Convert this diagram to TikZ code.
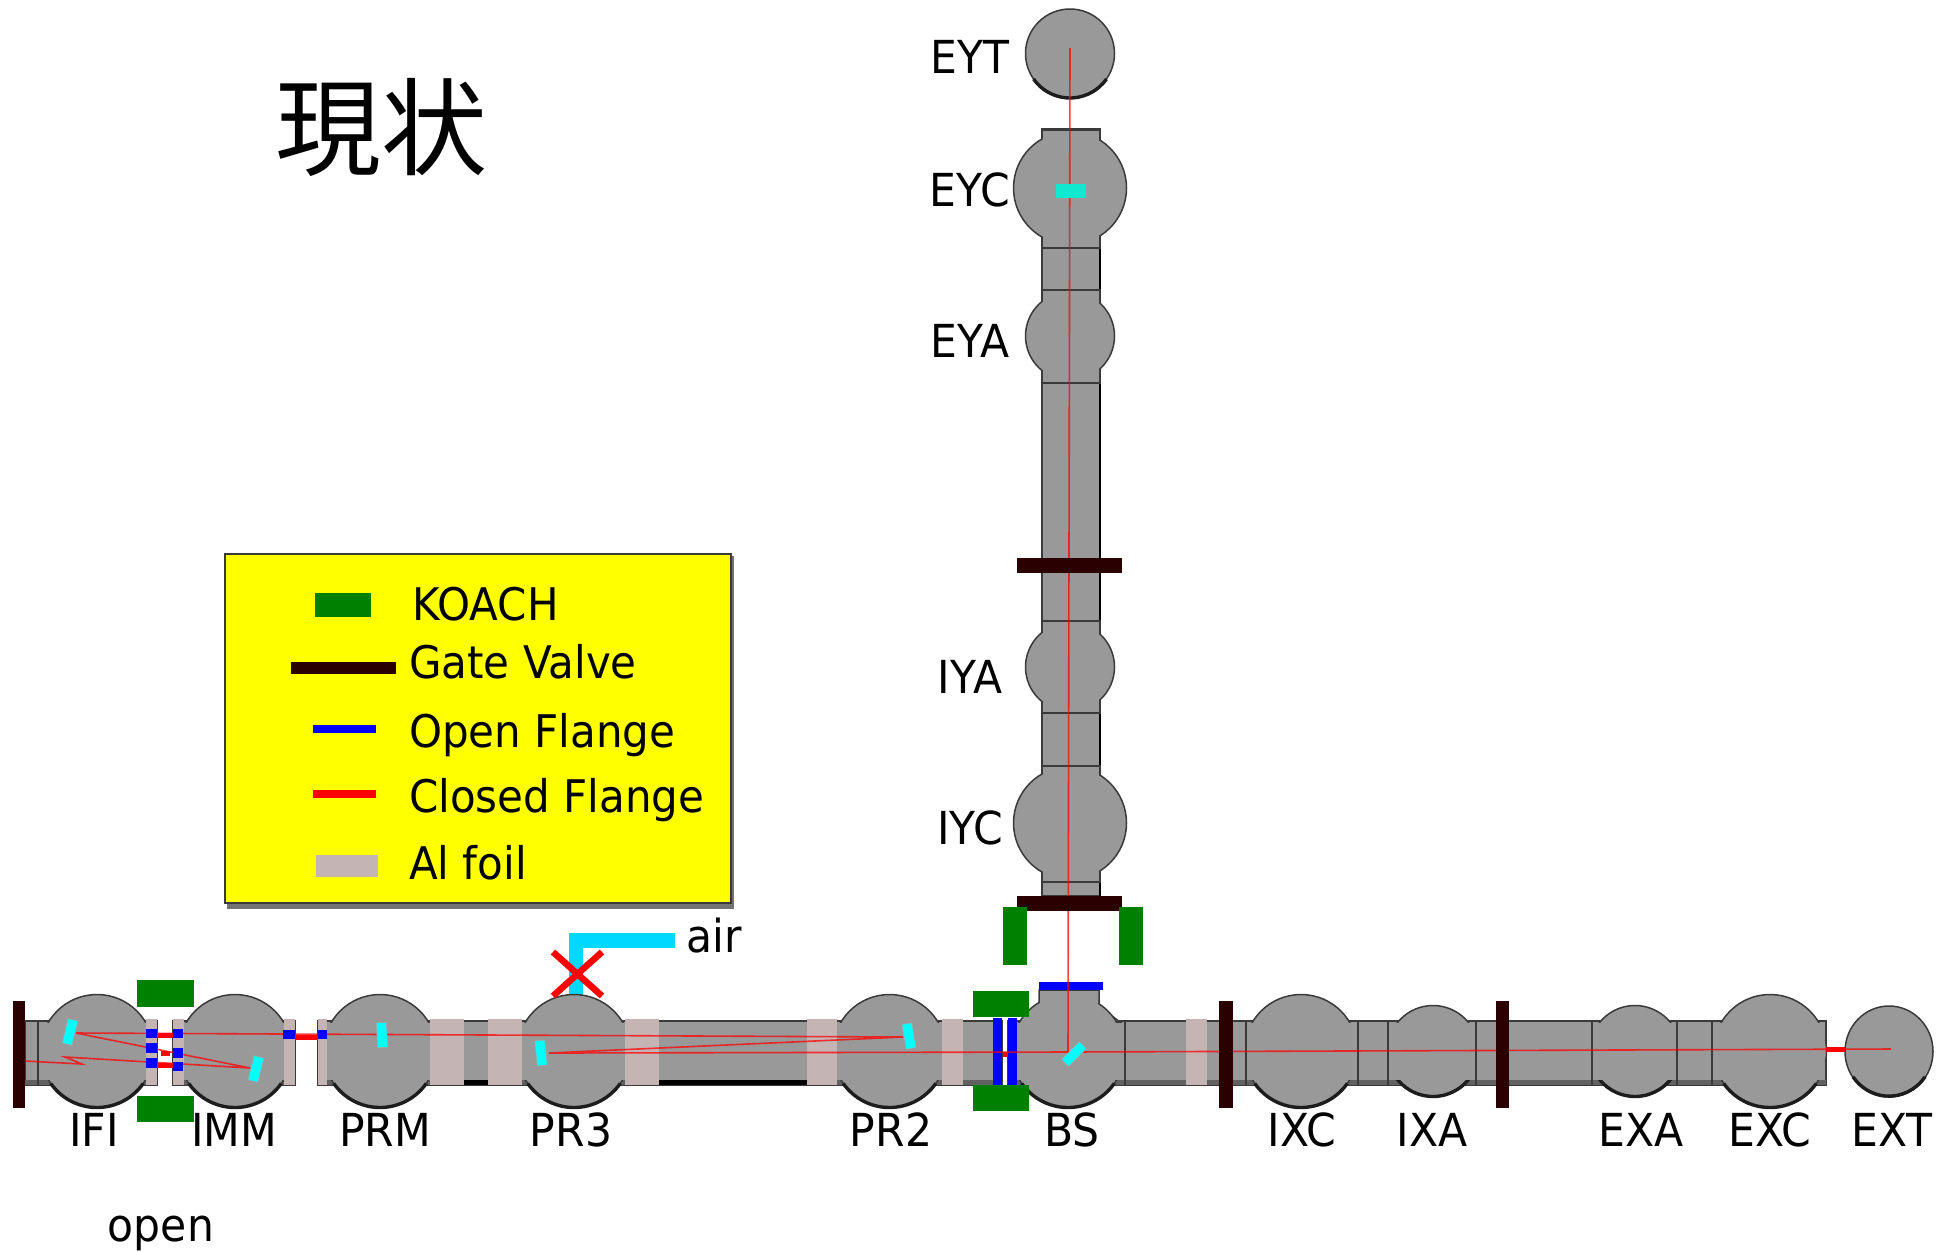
\documentclass[tikz,border=0pt]{standalone}
\usepackage{fontspec}
\usepackage{graphicx}
\setmainfont{DejaVu Sans}
\newfontfamily\cjk{Noto Sans CJK JP}
\newcommand{\tallbox}[1]{\scalebox{1}[1.07]{#1}}
\definecolor{tubegray}{HTML}{999999}
\definecolor{edgegray}{HTML}{3a3a3a}
\definecolor{valvebrown}{HTML}{2b0000}
\definecolor{koachgreen}{HTML}{008000}
\definecolor{foilgray}{HTML}{c4b4b4}
\definecolor{pipecyan}{HTML}{00d8ff}
\definecolor{mirrorcyan}{HTML}{00ffff}
\definecolor{endmirror}{HTML}{10e8d0}
\definecolor{legendyellow}{HTML}{ffff00}
\definecolor{pureblue}{HTML}{0000ff}
\definecolor{purered}{HTML}{ff0000}
\tikzset{
	chamber/.style={fill=tubegray, draw=edgegray, line width=1.5pt},
	bottomarc/.style={draw=edgegray!50!black, line width=3.4pt},
	sepline/.style={edgegray, line width=1.5pt},
	foil/.style={fill=foilgray},
	koach/.style={fill=koachgreen},
	valve/.style={fill=valvebrown},
	flangeopen/.style={fill=pureblue},
	beam/.style={purered, line width=1.6pt, opacity=.75},
	thickbeam/.style={purered, line width=5pt},
	mirror/.style={fill=mirrorcyan, draw=gray!70, line width=.5pt, inner sep=0pt, minimum width=10pt, minimum height=25pt},
	namelabel/.style={font=\fontsize{42.5}{46}\selectfont, anchor=base, inner sep=0pt},
	legendtext/.style={font=\fontsize{42}{46}\selectfont, anchor=base west, inner sep=0pt}
}

\begin{document}
\begin{tikzpicture}[x=1pt, y=-1pt]
	\useasboundingbox (0, 0) rectangle (1954, 1251);
	% air pipe
	\draw[pipecyan, line width=14.5pt] (576, 996) -- (576, 940.5) -- (675, 940.5);
	\node[namelabel] (labair) at (714, 952) {\tallbox{air}};

	% x arm
	\foreach \xa/\xb in {25/157, 173/295, 318/1002, 1008/1826} {
		\draw[fill=tubegray, draw=edgegray, line width=1.5pt] (\xa, 1021) rectangle (\xb, 1085);
		\draw[edgegray!80, line width=5pt] (\xa, 1082.5) -- (\xb, 1082.5);
	}
	\draw[black, line width=5pt] (464, 1082.5) -- (488, 1082.5);
	\draw[black, line width=5pt] (659, 1082.5) -- (807, 1082.5);
	% neck above BS
	\draw[chamber] (1039, 990) -- (1039, 1006) -- (1020, 1022) -- (1120, 1022) -- (1099, 1006) -- (1099, 990) -- cycle;
	\foreach \cx/\rr in {97/56.5, 235/56.5, 380/56.5, 574/56.5, 889.5/56.5, 1068/56.5, 1301/56.5, 1433/45.5, 1635/45.5, 1770/56.5} {
		\draw[chamber] (\cx, 1051) circle[radius=\rr];
		\draw[bottomarc] (\cx, 1051) ++(35:\rr) arc[start angle=35, end angle=145, radius=\rr];
	}
	\foreach \xa/\xb in {26/156, 174/294, 319/1001, 1009/1825} {
		\fill[tubegray] (\xa, 1022.5) rectangle (\xb, 1079.5);
	}
	\fill[tubegray] (1040, 991) rectangle (1098, 1030);
	\foreach \xa in {38, 1125, 1246, 1358, 1388, 1476, 1592, 1677, 1712} {
		\draw[sepline] (\xa, 1021) -- (\xa, 1085);
	}
	% last test mass
	\draw[chamber] (1889, 1051.5) ellipse[x radius=44, y radius=45.5];
	\draw[bottomarc] (1889, 1051.5) ++(35:44) arc[start angle=35, end angle=145, x radius=44, y radius=45.5];

	% y arm
	\draw[chamber] (1042, 129) rectangle (1100, 896);
	\foreach \cy/\rr in {188/56.5, 336/44.5, 667/44.5, 823/56.5} {
		\draw[chamber] (1070, \cy) circle[radius=\rr];
	}
	\fill[tubegray] (1043, 131) rectangle (1099, 895);
	\foreach \ya/\yb in {248/290, 383/621, 713/766, 882/896} {
		\draw[black, line width=2pt] (1100, \ya) -- (1100, \yb);
	}
	\foreach \ya in {130, 248, 290, 383, 621, 713, 766, 882} {
		\draw[sepline] (1041, \ya) -- (1101, \ya);
	}
	\draw[chamber] (1070, 53.5) circle[radius=44.5];
	\draw[bottomarc] (1070, 53.5) ++(35:44.5) arc[start angle=35, end angle=145, radius=44.5];

	% al foil
	\foreach \xa/\xb in {146/157, 173/184, 284/295, 318/327, 430/464, 488/522, 625/659, 807/837, 942/963, 1186/1207} {
		\fill[foil] (\xa, 1019) rectangle (\xb, 1085);
	}
	% flanges at BS
	\fill[flangeopen] (993, 1018) rectangle (1002, 1085);
	\fill[flangeopen] (1008, 1018) rectangle (1017, 1085);
	\fill[flangeopen] (1039, 982) rectangle (1103, 990);

	% beam path
	\draw[beam] (1070, 48) -- (1068, 1052) -- (1891, 1049);
	\draw[beam] (1068, 1052) -- (549, 1053) -- (903, 1037) -- (76, 1033) -- (250, 1068) -- (65, 1057) -- (82, 1064) -- (25, 1061);
	\draw[thickbeam] (1826, 1049.5) -- (1845, 1049.5);
	\draw[thickbeam] (295, 1037) -- (318, 1037);
	\draw[thickbeam] (157, 1035) -- (173, 1035);
	\draw[thickbeam] (161, 1053) -- (170, 1053);
	\draw[thickbeam] (157, 1065) -- (173, 1065);
	\draw[thickbeam] (1003, 1054) -- (1008, 1054);

	% small open flanges
	\foreach \xa/\xb/\ya/\yb in {146/157/1029/1038, 146/157/1043/1053, 146/157/1058/1068, 173/183/1029/1038, 173/183/1048/1058, 173/183/1062/1071, 283/295/1030/1039, 318/327/1030/1039} {
		\fill[flangeopen] (\xa, \ya) rectangle (\xb, \yb);
	}

	% mirrors
	\node[mirror, rotate=-14] (mirIFI) at (70, 1032) {};
	\node[mirror, rotate=-14] (mirIMM) at (256, 1069) {};
	\node[mirror, rotate=3] (mirPRM) at (382, 1035) {};
	\node[mirror, rotate=6] (mirPRthree) at (541, 1053) {};
	\node[mirror, rotate=10] (mirPRtwo) at (909, 1036) {};
	\node[mirror, rotate=-45] (mirBS) at (1074, 1054) {};
	\fill[endmirror] (1056, 184) rectangle (1086, 198);

	% gate valves
	\fill[valve] (13, 1001) rectangle (25, 1108);
	\fill[valve] (1219, 1001) rectangle (1233, 1108);
	\fill[valve] (1496, 1001) rectangle (1509, 1108);
	\fill[valve] (1017, 558) rectangle (1122, 573);
	\fill[valve] (1017, 896) rectangle (1122, 911);

	% koach
	\fill[koach] (137, 980) rectangle (194, 1007);
	\fill[koach] (137, 1096) rectangle (194, 1122);
	\fill[koach] (973, 991) rectangle (1029, 1017);
	\fill[koach] (973, 1085) rectangle (1029, 1111);
	\fill[koach] (1003, 907) rectangle (1027, 965);
	\fill[koach] (1119, 907) rectangle (1143, 965);

	% closed valve mark
	\draw[purered, line width=6.5pt] (553, 952) -- (602, 996);
	\draw[purered, line width=6.5pt] (602, 952) -- (553, 996);

	% names
	\foreach \name/\px in {IFI/94, IMM/234, PRM/385, PR3/571, PR2/891, BS/1072, IXC/1302, IXA/1432, EXA/1641, EXC/1770, EXT/1892} {
		\node[namelabel] (lab\name) at (\px, 1146) {\tallbox{\name}};
	}
	\foreach \name/\px/\py in {EYT/970/73, EYC/970/206, EYA/970/357, IYA/970/693, IYC/970/844} {
		\node[namelabel] (lab\name) at (\px, \py) {\tallbox{\name}};
	}
	\node[namelabel] (labopen) at (161, 1241) {\tallbox{open}};
	\node[font=\cjk\fontsize{106}{116}\selectfont, inner sep=0pt] (title) at (381, 127) {現状};

	% legend
	\fill[gray!90!black] (227, 556) rectangle (734, 909);
	\draw[fill=legendyellow, draw=edgegray, line width=1.5pt] (225, 554) rectangle (731, 903);
	\fill[koach] (315, 593) rectangle (371, 617);
	\fill[valve] (291, 662) rectangle (395.5, 674);
	\fill[flangeopen] (313, 725) rectangle (376, 733);
	\fill[purered] (313, 790) rectangle (376, 798);
	\fill[foil] (316, 855) rectangle (378, 877);
	\node[legendtext] (legkoach) at (412, 620) {\tallbox{KOACH}};
	\node[legendtext] (leggate) at (409, 678) {\tallbox{Gate Valve}};
	\node[legendtext] (legopen) at (409, 747) {\tallbox{Open Flange}};
	\node[legendtext] (legclosed) at (409, 812) {\tallbox{Closed Flange}};
	\node[legendtext] (legfoil) at (409, 879) {\tallbox{Al foil}};
\end{tikzpicture}
\end{document}
